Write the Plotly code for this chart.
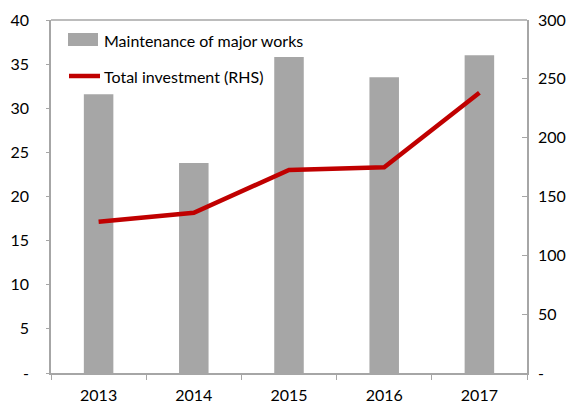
import plotly.graph_objects as go

years = ["2013", "2014", "2015", "2016", "2017"]
maintenance = [31.6, 23.8, 35.8, 33.5, 36.0]
total_investment = [128.5, 136.2, 172.5, 174.8, 238.2]

left_ticks = [0, 5, 10, 15, 20, 25, 30, 35, 40]
left_labels = ["-" if v == 0 else str(v) for v in left_ticks]
right_ticks = [0, 50, 100, 150, 200, 250, 300]
right_labels = ["-" if v == 0 else str(v) for v in right_ticks]

FONT = "Lato, sans-serif"
AXIS = "#a6a6a6"
BAR = "#a6a6a6"
LINE = "#c00000"

W, H = 573, 407
ML, MR, MT, MB = 51, 46, 20, 34
PW, PH = W - ML - MR, H - MT - MB


def px(x):
    return (x - ML) / PW


def py(y):
    return (H - MB - y) / PH


fig = go.Figure()
fig.add_trace(go.Bar(
    x=years, y=maintenance, name="Maintenance of major works",
    marker=dict(color=BAR, line=dict(width=0)),
))
fig.add_trace(go.Scatter(
    x=years, y=total_investment, name="Total investment (RHS)",
    yaxis="y2", mode="lines",
    line=dict(color=LINE, width=4.5),
))

fig.update_layout(
    width=W, height=H,
    margin=dict(l=ML, r=MR, t=MT, b=MB),
    paper_bgcolor="white", plot_bgcolor="white",
    font=dict(family=FONT, size=16, color="black"),
    bargap=0.69,
    showlegend=False,
    xaxis=dict(
        type="category", showline=True, linecolor=AXIS, linewidth=1.5,
        ticks="outside", tickson="boundaries", ticklen=5,
        tickcolor=AXIS, showgrid=False, ticklabelstandoff=7,
        automargin=False,
    ),
    yaxis=dict(
        range=[0, 40], tickvals=left_ticks, ticktext=left_labels,
        showline=True, linecolor=AXIS, linewidth=1.5, ticks="outside",
        ticklen=3, tickcolor=AXIS, showgrid=False, zeroline=False,
        ticklabelstandoff=14, automargin=False,
    ),
    yaxis2=dict(
        range=[0, 300], tickvals=right_ticks, ticktext=right_labels,
        overlaying="y", side="right", showline=True, linecolor=AXIS,
        linewidth=1.5, ticks="inside", ticklen=5, tickcolor=AXIS,
        showgrid=False, zeroline=False, ticklabelstandoff=6,
        automargin=False,
    ),
)

# top border of the plot frame
fig.add_shape(type="line", xref="paper", yref="paper", x0=0, x1=1, y0=1, y1=1,
              line=dict(color=AXIS, width=1.5))

# legend drawn by hand: wide grey swatch and thick red line
fig.add_shape(type="rect", xref="paper", yref="paper",
              x0=px(68), x1=px(98), y0=py(46), y1=py(33),
              fillcolor=BAR, line=dict(width=0))
fig.add_shape(type="line", xref="paper", yref="paper",
              x0=px(69), x1=px(100), y0=py(76), y1=py(76),
              line=dict(color=LINE, width=4.5))
for label, y in [("Maintenance of major works", 40), ("Total investment (RHS)", 76)]:
    fig.add_annotation(text=label, xref="paper", yref="paper",
                       x=px(102), y=py(y), xanchor="left", yanchor="middle",
                       showarrow=False, font=dict(size=16))

fig.write_html("out.html")
